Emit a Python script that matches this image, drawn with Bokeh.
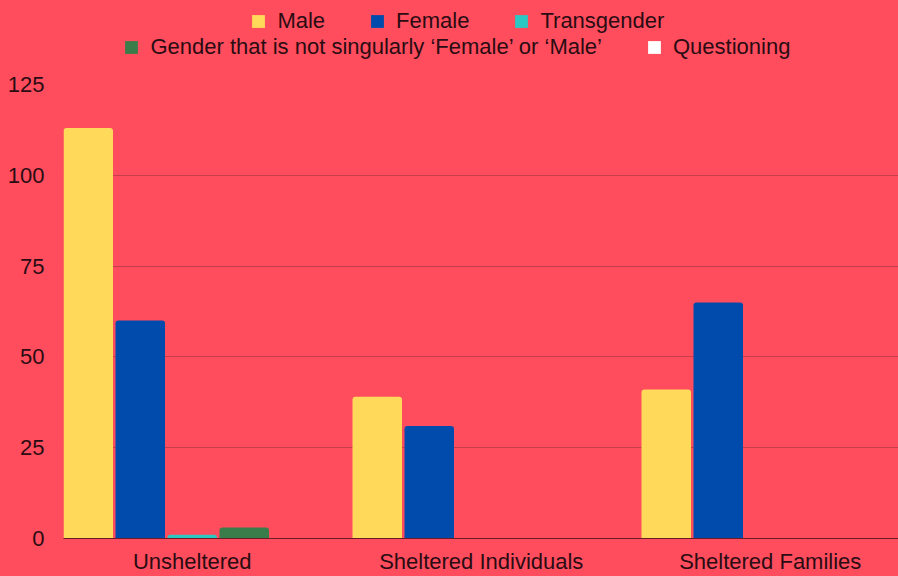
from bokeh.plotting import figure
from bokeh.layouts import column
from bokeh.models import Range1d, FixedTicker, Legend, LegendItem
from bokeh.embed import file_html
from bokeh.resources import INLINE

categories = ["Unsheltered", "Sheltered Individuals", "Sheltered Families"]
series_names = ["Male", "Female", "Transgender",
                "Gender that is not singularly \u2018Female\u2019 or \u2018Male\u2019",
                "Questioning"]
male = [113, 39, 41]
female = [60, 31, 65]
transgender = [1, 0, 0]
nonsingular = [3, 0, 0]
questioning = [0, 0, 0]
y_ticks = [0, 25, 50, 75, 100, 125]

series_values = [male, female, transgender, nonsingular, questioning]
colors = ["#FFDA5A", "#014BAC", "#2CC8C3", "#3A7D4B", "#FFFFFF"]
BG = "#FF4D5E"
TXT = "#2a0c12"
FONT = "Liberation Sans"

pitch = 52 / 289
bar_w = 49.5 / 289

# ---- main chart ----
p = figure(width=898, height=516, output_backend="svg", toolbar_location=None,
           x_range=Range1d(0, 835 / 289), y_range=Range1d(0, 125),
           min_border_left=63, min_border_right=0, min_border_top=24,
           min_border_bottom=38)
p.background_fill_color = BG
p.border_fill_color = BG
p.outline_line_color = None

for j, vals in enumerate(series_values):
    xs = [i + j * pitch + bar_w / 2 for i in range(len(categories))]
    p.vbar(x=xs, top=vals, width=bar_w, bottom=0, fill_color=colors[j],
           line_color=None, border_radius=[3, 3, 0, 0])

tick_pos = [i + 2 * pitch + bar_w / 2 for i in range(len(categories))]
p.xaxis.ticker = FixedTicker(ticks=tick_pos)
p.xaxis.major_label_overrides = {t: c for t, c in zip(tick_pos, categories)}
p.xaxis.axis_line_color = "#6a1c26"
p.xaxis.major_tick_line_color = None
p.xaxis.minor_tick_line_color = None
p.xaxis.major_tick_out = 0
p.xaxis.major_label_standoff = 10
p.xgrid.grid_line_color = None

p.yaxis.ticker = FixedTicker(ticks=y_ticks)
p.yaxis.axis_line_color = None
p.yaxis.major_tick_line_color = None
p.yaxis.minor_tick_line_color = None
p.yaxis.major_tick_out = 0
p.yaxis.major_label_standoff = 19
p.ygrid.grid_line_color = "#C63E4B"

for ax in (p.xaxis, p.yaxis):
    ax.major_label_text_font = FONT
    ax.major_label_text_font_size = "22px"
    ax.major_label_text_color = TXT

# ---- legend strip (same series, hidden glyphs; only the legend shows) ----
lp = figure(width=898, height=60, output_backend="svg", toolbar_location=None,
            x_range=Range1d(0, 1), y_range=Range1d(0, 1),
            x_axis_location=None, y_axis_location=None,
            min_border_left=0, min_border_right=0, min_border_top=0, min_border_bottom=0)
lp.background_fill_color = BG
lp.border_fill_color = BG
lp.outline_line_color = None
lp.xgrid.grid_line_color = None
lp.ygrid.grid_line_color = None

leg_renderers = []
for j, vals in enumerate(series_values):
    xs = [i + j * pitch + bar_w / 2 for i in range(len(categories))]
    r = lp.vbar(x=xs, top=vals, width=bar_w, bottom=0, fill_color=colors[j],
                line_color=None, visible=False)
    leg_renderers.append(r)


def make_legend(idx, loc):
    return Legend(items=[LegendItem(label=series_names[k], renderers=[leg_renderers[k]]) for k in idx],
                  orientation="horizontal", location=loc, click_policy="none",
                  glyph_width=16, glyph_height=16, label_standoff=11, spacing=44,
                  padding=0, margin=0, border_line_color=None, background_fill_color=None,
                  background_fill_alpha=0,
                  label_text_font=FONT, label_text_font_size="22px", label_text_color=TXT)


# the strip's frame is aligned with the chart's frame (63 px from the left)
lp.add_layout(make_legend([0, 1, 2], (187.4, 26.5)))
lp.add_layout(make_legend([3, 4], (60.4, 0.5)))

layout = column(lp, p, spacing=0)

html = file_html(layout, INLINE)
html = html.replace("</head>", "<style>html,body{margin:0;padding:0;background:%s;}</style></head>" % BG, 1)
open("out.html", "w").write(html)
